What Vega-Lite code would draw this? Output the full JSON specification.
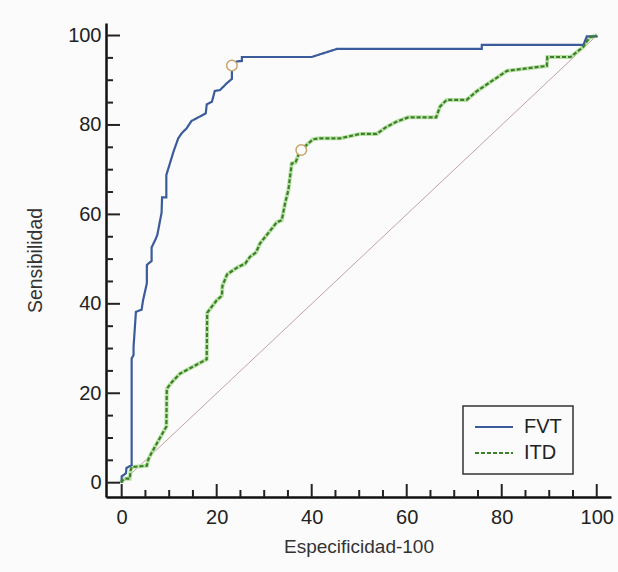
{
  "$schema": "https://vega.github.io/schema/vega-lite/v6.json",
  "width": 505,
  "height": 474,
  "autosize": "none",
  "padding": {"left": 106, "top": 23, "right": 7, "bottom": 75},
  "background": "#fbfbfb",
  "config": {
    "view": {"stroke": null},
    "font": "Liberation Sans",
    "legend": {
      "symbolType": "stroke",
      "symbolSize": 1444,
      "symbolStrokeWidth": 2,
      "clipHeight": 20,
      "labelFontSize": 20,
      "labelColor": "#222222",
      "labelOffset": 10,
      "padding": 11,
      "rowPadding": 6,
      "strokeColor": "#333333",
      "strokeWidth": 1.5
    }
  },
  "datasets": {
    "roc": [
      {"s": "FVT", "i": 0, "x": 0, "y": 0},
      {"s": "FVT", "i": 1, "x": 0, "y": 1.4},
      {"s": "FVT", "i": 2, "x": 0.9, "y": 2.1},
      {"s": "FVT", "i": 3, "x": 1.0, "y": 3.3},
      {"s": "FVT", "i": 4, "x": 2.1, "y": 3.9},
      {"s": "FVT", "i": 5, "x": 2.1, "y": 27.8},
      {"s": "FVT", "i": 6, "x": 2.5, "y": 28.5},
      {"s": "FVT", "i": 7, "x": 2.5, "y": 30.4},
      {"s": "FVT", "i": 8, "x": 3.0, "y": 38.2},
      {"s": "FVT", "i": 9, "x": 4.2, "y": 38.7},
      {"s": "FVT", "i": 10, "x": 4.5, "y": 40.8},
      {"s": "FVT", "i": 11, "x": 5.3, "y": 44.6},
      {"s": "FVT", "i": 12, "x": 5.3, "y": 48.7},
      {"s": "FVT", "i": 13, "x": 6.3, "y": 49.6},
      {"s": "FVT", "i": 14, "x": 6.3, "y": 52.6},
      {"s": "FVT", "i": 15, "x": 7.2, "y": 54.6},
      {"s": "FVT", "i": 16, "x": 7.5, "y": 55.4},
      {"s": "FVT", "i": 17, "x": 8.4, "y": 60.4},
      {"s": "FVT", "i": 18, "x": 8.5, "y": 63.8},
      {"s": "FVT", "i": 19, "x": 9.4, "y": 63.8},
      {"s": "FVT", "i": 20, "x": 9.4, "y": 68.8},
      {"s": "FVT", "i": 21, "x": 10.9, "y": 74.0},
      {"s": "FVT", "i": 22, "x": 11.9, "y": 77.0},
      {"s": "FVT", "i": 23, "x": 12.6, "y": 78.1},
      {"s": "FVT", "i": 24, "x": 13.7, "y": 79.3},
      {"s": "FVT", "i": 25, "x": 14.7, "y": 80.9},
      {"s": "FVT", "i": 26, "x": 16.5, "y": 81.9},
      {"s": "FVT", "i": 27, "x": 17.7, "y": 82.6},
      {"s": "FVT", "i": 28, "x": 17.9, "y": 84.6},
      {"s": "FVT", "i": 29, "x": 19.0, "y": 85.2},
      {"s": "FVT", "i": 30, "x": 19.6, "y": 87.6},
      {"s": "FVT", "i": 31, "x": 20.7, "y": 87.8},
      {"s": "FVT", "i": 32, "x": 22.1, "y": 89.3},
      {"s": "FVT", "i": 33, "x": 23.2, "y": 90.3},
      {"s": "FVT", "i": 34, "x": 23.2, "y": 93.3},
      {"s": "FVT", "i": 35, "x": 24.2, "y": 94.2},
      {"s": "FVT", "i": 36, "x": 25.3, "y": 94.3},
      {"s": "FVT", "i": 37, "x": 25.3, "y": 95.2},
      {"s": "FVT", "i": 38, "x": 40.0, "y": 95.2},
      {"s": "FVT", "i": 39, "x": 45.3, "y": 97.0},
      {"s": "FVT", "i": 40, "x": 75.8, "y": 97.0},
      {"s": "FVT", "i": 41, "x": 75.8, "y": 97.9},
      {"s": "FVT", "i": 42, "x": 97.2, "y": 97.9},
      {"s": "FVT", "i": 43, "x": 97.9, "y": 99.8},
      {"s": "FVT", "i": 44, "x": 100, "y": 99.8},
      {"s": "FVT", "i": 45, "x": 100, "y": 100},
      {"s": "ITD", "i": 0, "x": 0, "y": 0},
      {"s": "ITD", "i": 1, "x": 0, "y": 0.3},
      {"s": "ITD", "i": 2, "x": 0.7, "y": 0.9},
      {"s": "ITD", "i": 3, "x": 1.7, "y": 0.9},
      {"s": "ITD", "i": 4, "x": 1.9, "y": 2.8},
      {"s": "ITD", "i": 5, "x": 2.1, "y": 3.5},
      {"s": "ITD", "i": 6, "x": 5.3, "y": 3.8},
      {"s": "ITD", "i": 7, "x": 5.6, "y": 5.2},
      {"s": "ITD", "i": 8, "x": 6.3, "y": 6.7},
      {"s": "ITD", "i": 9, "x": 9.0, "y": 11.8},
      {"s": "ITD", "i": 10, "x": 9.4, "y": 12.5},
      {"s": "ITD", "i": 11, "x": 9.5, "y": 21.0},
      {"s": "ITD", "i": 12, "x": 10.5, "y": 22.4},
      {"s": "ITD", "i": 13, "x": 11.2, "y": 23.2},
      {"s": "ITD", "i": 14, "x": 12.3, "y": 24.4},
      {"s": "ITD", "i": 15, "x": 17.9, "y": 27.6},
      {"s": "ITD", "i": 16, "x": 18.0, "y": 38.0},
      {"s": "ITD", "i": 17, "x": 20.0, "y": 40.8},
      {"s": "ITD", "i": 18, "x": 21.1, "y": 41.8},
      {"s": "ITD", "i": 19, "x": 21.2, "y": 44.0},
      {"s": "ITD", "i": 20, "x": 22.2, "y": 46.6},
      {"s": "ITD", "i": 21, "x": 24.3, "y": 48.1},
      {"s": "ITD", "i": 22, "x": 26.0, "y": 49.0},
      {"s": "ITD", "i": 23, "x": 27.0, "y": 50.5},
      {"s": "ITD", "i": 24, "x": 28.3, "y": 51.5},
      {"s": "ITD", "i": 25, "x": 29.1, "y": 53.5},
      {"s": "ITD", "i": 26, "x": 31.9, "y": 57.2},
      {"s": "ITD", "i": 27, "x": 32.6, "y": 58.2},
      {"s": "ITD", "i": 28, "x": 33.7, "y": 58.7},
      {"s": "ITD", "i": 29, "x": 34.4, "y": 62.5},
      {"s": "ITD", "i": 30, "x": 35.1, "y": 65.5},
      {"s": "ITD", "i": 31, "x": 35.8, "y": 71.4},
      {"s": "ITD", "i": 32, "x": 36.6, "y": 71.6},
      {"s": "ITD", "i": 33, "x": 37.2, "y": 73.3},
      {"s": "ITD", "i": 34, "x": 37.8, "y": 74.4},
      {"s": "ITD", "i": 35, "x": 38.9, "y": 75.5},
      {"s": "ITD", "i": 36, "x": 40.3, "y": 76.8},
      {"s": "ITD", "i": 37, "x": 41.7, "y": 77.0},
      {"s": "ITD", "i": 38, "x": 46.0, "y": 77.0},
      {"s": "ITD", "i": 39, "x": 48.1, "y": 77.5},
      {"s": "ITD", "i": 40, "x": 50.2, "y": 78.0},
      {"s": "ITD", "i": 41, "x": 53.7, "y": 78.0},
      {"s": "ITD", "i": 42, "x": 55.5, "y": 79.4},
      {"s": "ITD", "i": 43, "x": 57.8, "y": 80.7},
      {"s": "ITD", "i": 44, "x": 60.3, "y": 81.7},
      {"s": "ITD", "i": 45, "x": 66.2, "y": 81.7},
      {"s": "ITD", "i": 46, "x": 67.0, "y": 84.1},
      {"s": "ITD", "i": 47, "x": 68.4, "y": 85.6},
      {"s": "ITD", "i": 48, "x": 72.6, "y": 85.6},
      {"s": "ITD", "i": 49, "x": 74.7, "y": 87.5},
      {"s": "ITD", "i": 50, "x": 81.1, "y": 92.1},
      {"s": "ITD", "i": 51, "x": 89.5, "y": 93.2},
      {"s": "ITD", "i": 52, "x": 89.6, "y": 95.2},
      {"s": "ITD", "i": 53, "x": 94.5, "y": 95.2},
      {"s": "ITD", "i": 54, "x": 97.2, "y": 97.5},
      {"s": "ITD", "i": 55, "x": 97.9, "y": 98.7},
      {"s": "ITD", "i": 56, "x": 98.6, "y": 99.6},
      {"s": "ITD", "i": 57, "x": 100, "y": 100}
    ],
    "opt": [
      {"s": "FVT", "x": 23.2, "y": 93.3},
      {"s": "ITD", "x": 37.8, "y": 74.4}
    ],
    "diag": [
      {"x": 0, "y": 0},
      {"x": 100, "y": 100}
    ],
    "majorTicks": [
      {"x": 0, "y": 0}, {"x": 20, "y": 20}, {"x": 40, "y": 40},
      {"x": 60, "y": 60}, {"x": 80, "y": 80}, {"x": 100, "y": 100}
    ],
    "minorTicks": [
      {"x": 5, "y": 5}, {"x": 10, "y": 10}, {"x": 15, "y": 15}, {"x": 25, "y": 25},
      {"x": 30, "y": 30}, {"x": 35, "y": 35}, {"x": 45, "y": 45}, {"x": 50, "y": 50},
      {"x": 55, "y": 55}, {"x": 65, "y": 65}, {"x": 70, "y": 70}, {"x": 75, "y": 75},
      {"x": 85, "y": 85}, {"x": 90, "y": 90}, {"x": 95, "y": 95}
    ]
  },
  "layer": [
    {
      "encoding": {
        "x": {
          "field": "x",
          "type": "quantitative",
          "scale": {"domain": [-3.3, 103], "nice": false, "zero": false},
          "axis": {
            "orient": "bottom",
            "zindex": 0,
            "title": "Especificidad-100",
            "values": [0, 20, 40, 60, 80, 100],
            "ticks": false,
            "domainColor": "#111111",
            "domainWidth": 2.5,
            "gridOpacity": 0,
            "labelFontSize": 20,
            "labelColor": "#222222",
            "labelPadding": 10,
            "titleFontSize": 19,
            "titleFontWeight": "normal",
            "titleColor": "#333333",
            "titlePadding": 10
          }
        },
        "y": {
          "field": "y",
          "type": "quantitative",
          "scale": {"domain": [-3.2, 102.8], "nice": false, "zero": false},
          "axis": {
            "orient": "left",
            "zindex": 0,
            "title": "Sensibilidad",
            "values": [0, 20, 40, 60, 80, 100],
            "ticks": false,
            "domainColor": "#111111",
            "domainWidth": 2.5,
            "gridOpacity": 0,
            "labelFontSize": 20,
            "labelColor": "#222222",
            "labelPadding": 5,
            "titleFontSize": 19.5,
            "titleFontWeight": "normal",
            "titleColor": "#333333",
            "titlePadding": 22
          }
        }
      },
      "layer": [
        {
          "data": {"name": "diag"},
          "mark": {"type": "line", "color": "#c4a2a2", "strokeWidth": 1}
        },
        {
          "data": {"name": "roc"},
          "transform": [{"filter": "datum.s === 'ITD'"}],
          "mark": {"type": "line", "color": "#b9e3a5", "strokeWidth": 4},
          "encoding": {"order": {"field": "i", "type": "quantitative"}}
        },
        {
          "data": {"name": "roc"},
          "mark": {"type": "line", "strokeWidth": 2.2},
          "encoding": {
            "order": {"field": "i", "type": "quantitative"},
            "color": {
              "field": "s",
              "type": "nominal",
              "scale": {"domain": ["FVT", "ITD"], "range": ["#3b5b9b", "#3e7f2c"]},
              "legend": {
                "orient": "none",
                "legendX": 357,
                "legendY": 383,
                "title": null,
                "labelExpr": "datum.label + '      '"
              }
            },
            "strokeDash": {
              "field": "s",
              "type": "nominal",
              "scale": {"domain": ["FVT", "ITD"], "range": [[1, 0], [4, 2]]},
              "legend": {
                "orient": "none",
                "legendX": 357,
                "legendY": 383,
                "title": null,
                "labelExpr": "datum.label + '      '"
              }
            }
          }
        },
        {
          "data": {"name": "opt"},
          "mark": {"type": "point", "shape": "circle", "size": 110, "filled": false, "fill": "#fcfcfc", "fillOpacity": 1, "stroke": "#c9a36b", "strokeWidth": 1.5, "opacity": 1}
        }
      ]
    },
    {
      "data": {"name": "majorTicks"},
      "mark": {"type": "rule", "color": "#222222", "strokeWidth": 2},
      "encoding": {
        "x": {"field": "x", "type": "quantitative"},
        "y": {"datum": -3.2},
        "y2": {"datum": -0.3}
      }
    },
    {
      "data": {"name": "minorTicks"},
      "mark": {"type": "rule", "color": "#222222", "strokeWidth": 2},
      "encoding": {
        "x": {"field": "x", "type": "quantitative"},
        "y": {"datum": -3.2},
        "y2": {"datum": -1.63}
      }
    },
    {
      "data": {"name": "majorTicks"},
      "mark": {"type": "rule", "color": "#222222", "strokeWidth": 2},
      "encoding": {
        "y": {"field": "y", "type": "quantitative"},
        "x": {"datum": -3.3},
        "x2": {"datum": -0.35}
      }
    },
    {
      "data": {"name": "minorTicks"},
      "mark": {"type": "rule", "color": "#222222", "strokeWidth": 2},
      "encoding": {
        "y": {"field": "y", "type": "quantitative"},
        "x": {"datum": -3.3},
        "x2": {"datum": -1.83}
      }
    }
  ]
}
